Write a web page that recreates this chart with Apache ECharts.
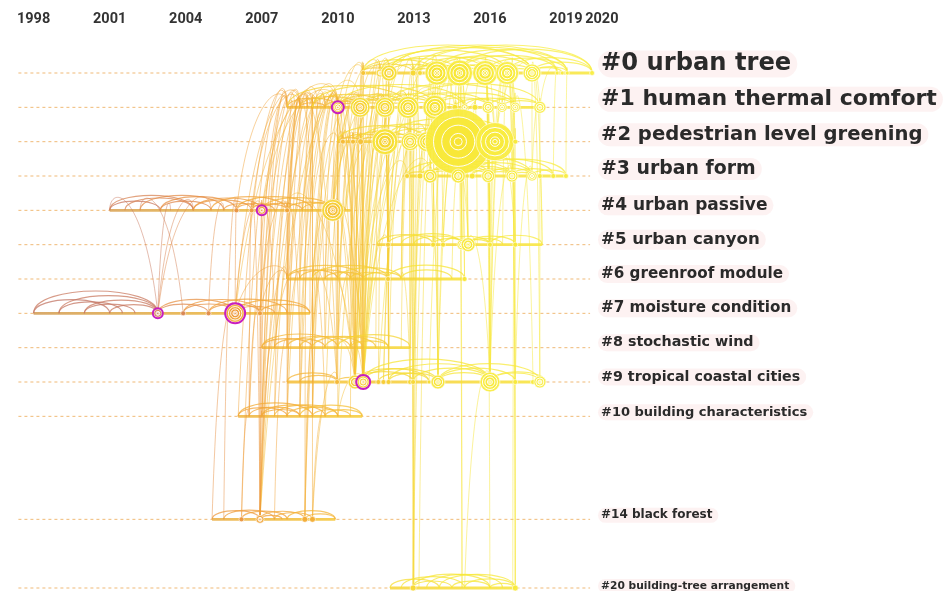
<!DOCTYPE html>
<html>
<head>
<meta charset="utf-8">
<script src="https://cdn.jsdelivr.net/npm/echarts@6/dist/echarts.min.js"></script>
<style>
html,body{margin:0;padding:0;background:#fff;}
#chart{width:948px;height:591px;}
</style>
</head>
<body>
<div id="chart"></div>
<script>
// Timeline view of co-citation clusters (years on top, one row per cluster)
const yearTicks = [1998, 2001, 2004, 2007, 2010, 2013, 2016, 2019];
const lastYearTick = [2020];

const clusterNames = [
  '#0 urban tree', '#1 human thermal comfort', '#2 pedestrian level greening',
  '#3 urban form', '#4 urban passive', '#5 urban canyon', '#6 greenroof module',
  '#7 moisture condition', '#8 stochastic wind', '#9 tropical coastal cities',
  '#10 building characteristics', '#14 black forest', '#20 building-tree arrangement'
];
const clusterRows = [0, 1, 2, 3, 4, 5, 6, 7, 8, 9, 10, 13, 15];

// active time span of each cluster [first year, last year]
const clusterSpans = [
  [2010.9, 2020.03], [2008.0, 2018.2], [2010.0, 2017.1], [2012.7, 2019.0],
  [2001.0, 2010.5], [2011.55, 2018.06], [2008.0, 2015.0], [1998.0, 2008.9],
  [2007.0, 2012.85], [2008.0, 2018.2], [2006.07, 2010.96], [2005.04, 2009.9],
  [2012.06, 2017.0]
];

// references: [cluster index, year, citation size, high centrality 0/1]
const nodes = [
  [0,2011.0,2.5,0],[0,2011.67,4,0],[0,2012.02,8,0],[0,2012.97,3,0],[0,2013.24,2.5,0],
  [0,2013.91,12,0],[0,2014.8,13,0],[0,2015.81,12.5,0],[0,2016.68,11.5,0],[0,2017.66,9,0],
  [0,2018.65,2,0],[0,2018.85,2,0],[0,2019.05,2,0],[0,2020.03,2.5,0],
  [1,2010.0,5,1],[1,2010.88,10,0],[1,2011.86,10,0],[1,2012.77,11,0],[1,2013.83,12,0],
  [1,2014.62,3,0],[1,2015.0,3.5,0],[1,2015.41,3,0],[1,2015.93,6,0],[1,2016.48,5,0],
  [1,2017.0,5,0],[1,2017.97,6,0],
  [2,2010.2,2.5,0],[2,2010.6,2.5,0],[2,2010.9,3,0],[2,2011.86,13,0],[2,2012.85,9,0],
  [2,2013.52,10,0],[2,2014.75,33,0],[2,2016.2,19,0],[2,2017.0,2.5,0],
  [3,2012.73,2.5,0],[3,2013.24,3,0],[3,2013.64,7,0],[3,2014.75,7,0],[3,2015.3,3,0],
  [3,2015.93,6.5,0],[3,2016.87,6,0],[3,2017.66,5,0],[3,2017.97,2.5,0],[3,2018.5,2.5,0],
  [3,2019.0,2.5,0],
  [4,2006.0,2.5,0],[4,2006.6,2.5,0],[4,2007.0,4,1],[4,2008.0,2.5,0],[4,2009.8,11,0],
  [5,2011.98,2.5,0],[5,2013.76,2.5,0],[5,2014.15,2.5,0],[5,2014.9,5,0],[5,2015.14,7,0],
  [5,2016.0,2.5,0],[5,2017.0,2.5,0],
  [6,2011.98,2.5,0],[6,2015.0,2.5,0],
  [7,2002.9,4,1],[7,2003.9,2.5,0],[7,2004.9,2.5,0],[7,2005.95,9,1],[7,2006.93,2.5,0],
  [9,2009.97,2.5,0],[9,2010.68,7,0],[9,2011.0,6,1],[9,2011.6,2.5,0],[9,2011.8,2.5,0],
  [9,2012.0,2.5,0],[9,2012.85,2.5,0],[9,2012.97,2.5,0],[9,2013.6,2,0],[9,2013.95,7,0],
  [9,2016.0,10,0],[9,2017.0,2.5,0],[9,2017.7,2.5,0],[9,2017.97,6,0],
  [11,2006.2,2.5,0],[11,2006.93,4,0],[11,2008.7,3,0],[11,2009.0,3,0],
  [12,2012.97,3,0],[12,2017.0,3,0]
];

// co-citation links inside a cluster: [cluster index, year A, year B]
const arcs = [
  [0,2010.9,2012.02],[0,2011.0,2013.91],[0,2011.67,2014.8],[0,2012.02,2013.91],[0,2012.02,2015.81],
  [0,2012.97,2014.8],[0,2013.24,2016.68],[0,2013.91,2014.8],[0,2013.91,2015.81],[0,2013.91,2017.66],
  [0,2014.8,2015.81],[0,2014.8,2016.68],[0,2014.8,2018.65],[0,2015.81,2016.68],[0,2015.81,2017.66],
  [0,2015.81,2019.05],[0,2016.68,2017.66],[0,2016.68,2020.03],[0,2017.66,2018.85],[0,2017.66,2020.03],
  [0,2012.02,2017.66],[0,2011.0,2017.66],[0,2012.02,2019.05],[0,2013.24,2020.03],[0,2011.67,2016.68],
  [0,2012.97,2018.65],[0,2013.91,2019.05],[0,2014.8,2020.03],[0,2011.0,2012.97],[0,2012.97,2013.91],
  [0,2017.66,2019.05],
  [1,2008.0,2010.0],[1,2008.5,2010.88],[1,2009.0,2011.86],[1,2010.0,2010.88],[1,2010.0,2011.86],
  [1,2010.0,2012.77],[1,2010.88,2011.86],[1,2010.88,2012.77],[1,2010.88,2013.83],[1,2011.86,2012.77],
  [1,2011.86,2013.83],[1,2011.86,2015.0],[1,2012.77,2013.83],[1,2012.77,2015.93],[1,2013.83,2014.62],
  [1,2013.83,2015.93],[1,2013.83,2017.0],[1,2014.62,2016.48],[1,2015.93,2017.97],[1,2016.48,2017.97],
  [1,2015.0,2017.0],[1,2008.0,2012.77],[1,2009.0,2013.83],[1,2010.0,2015.0],[1,2011.86,2017.0],
  [1,2012.77,2017.97],[1,2008.5,2009.5],[1,2009.5,2010.88],
  [2,2010.0,2010.9],[2,2010.2,2011.86],[2,2010.6,2012.85],[2,2010.9,2011.86],[2,2011.86,2012.85],
  [2,2011.86,2013.52],[2,2011.86,2014.75],[2,2012.85,2013.52],[2,2012.85,2014.75],[2,2013.52,2014.75],
  [2,2013.52,2016.2],[2,2014.75,2016.2],[2,2014.75,2017.0],[2,2016.2,2017.0],[2,2010.0,2013.52],
  [2,2010.9,2014.75],[2,2012.85,2016.2],[2,2011.86,2017.0],
  [3,2012.73,2013.64],[3,2013.24,2014.75],[3,2013.64,2014.75],[3,2013.64,2015.93],[3,2014.75,2015.93],
  [3,2014.75,2016.87],[3,2015.3,2016.87],[3,2015.93,2016.87],[3,2015.93,2017.66],[3,2016.87,2017.66],
  [3,2016.87,2018.5],[3,2017.66,2019.0],[3,2013.64,2016.87],[3,2014.75,2017.66],[3,2012.73,2016.0],
  [3,2013.24,2017.66],[3,2015.3,2019.0],[3,2014.75,2018.5],
  [4,2001.0,2004.3],[4,2001.0,2003.0],[4,2001.6,2004.3],[4,2002.2,2005.5],[4,2003.0,2005.0],
  [4,2003.0,2006.0],[4,2004.3,2006.6],[4,2004.3,2007.0],[4,2005.0,2008.0],[4,2005.5,2007.0],
  [4,2006.0,2009.0],[4,2006.6,2008.0],[4,2007.0,2009.8],[4,2007.0,2008.6],[4,2008.0,2009.8],
  [4,2008.6,2010.3],[4,2006.0,2007.5],
  [5,2011.55,2013.76],[5,2011.98,2014.15],[5,2012.5,2014.9],[5,2013.76,2015.14],[5,2014.15,2016.0],
  [5,2014.9,2016.0],[5,2015.14,2017.0],[5,2016.0,2018.06],[5,2013.0,2014.9],[5,2015.14,2016.5],
  [6,2008.0,2010.0],[6,2008.0,2011.0],[6,2008.5,2010.5],[6,2009.0,2011.98],[6,2009.5,2011.0],
  [6,2010.0,2012.5],[6,2010.5,2011.98],[6,2011.0,2012.5],[6,2011.98,2015.0],[6,2012.5,2014.5],
  [7,1998.0,2002.9],[7,1999.0,2002.9],[7,2000.0,2002.9],[7,2001.0,2002.9],[7,1998.0,2001.0],
  [7,1999.0,2001.5],[7,2000.0,2002.0],[7,2002.9,2005.95],[7,2002.9,2004.9],[7,2003.9,2005.95],
  [7,2003.9,2006.93],[7,2004.9,2006.93],[7,2004.9,2008.0],[7,2005.95,2008.9],[7,2005.95,2007.5],
  [7,2006.93,2008.9],
  [8,2007.0,2009.0],[8,2007.0,2010.0],[8,2007.5,2009.5],[8,2008.0,2010.5],[8,2008.5,2011.0],
  [8,2009.0,2011.5],[8,2009.5,2012.0],[8,2010.0,2012.85],[8,2010.5,2012.0],
  [9,2008.0,2010.0],[9,2008.5,2009.97],[9,2009.97,2011.0],[9,2010.68,2012.97],[9,2011.0,2013.95],
  [9,2011.6,2013.6],[9,2012.0,2013.95],[9,2012.97,2016.0],[9,2013.95,2016.0],[9,2013.95,2017.0],
  [9,2016.0,2017.97],[9,2016.0,2018.2],[9,2011.0,2016.0],[9,2012.0,2016.0],[9,2013.95,2017.97],
  [9,2010.68,2013.6],
  [10,2006.07,2008.0],[10,2006.07,2009.0],[10,2006.5,2008.5],[10,2007.0,2009.5],[10,2007.5,2010.0],
  [10,2008.0,2010.0],[10,2008.5,2010.96],[10,2009.0,2010.5],[10,2007.0,2008.5],[10,2009.5,2010.96],
  [11,2005.04,2006.93],[11,2005.5,2007.5],[11,2006.2,2008.0],[11,2006.93,2008.7],[11,2006.93,2007.8],
  [11,2007.5,2009.0],[11,2008.0,2009.9],[11,2008.7,2009.9],
  [12,2012.06,2014.0],[12,2012.5,2015.0],[12,2012.97,2016.0],[12,2013.5,2016.5],[12,2014.0,2017.0],
  [12,2014.5,2016.0],[12,2015.0,2017.0],[12,2012.97,2014.5],[12,2016.0,2017.0]
];

// co-citation links between clusters: [cluster A, year A, cluster B, year B]
const links = [
  [12,2012.97,0,2013.24],[12,2012.97,2,2012.85],[12,2013.2,1,2013.83],[12,2014.9,0,2014.8],
  [12,2017.0,0,2016.87],[12,2017.0,3,2016.87],[12,2016.9,1,2017.0],[12,2012.97,0,2013.91],
  [12,2013.0,1,2012.77],[12,2013.0,3,2013.24],[12,2014.9,2,2014.75],[12,2016.0,0,2015.81],
  [12,2017.0,2,2017.0],[12,2015.0,9,2016.0],[12,2012.97,5,2013.0],
  [11,2006.93,1,2008.5],[11,2006.93,1,2010.0],[11,2006.93,4,2007.0],[11,2006.93,6,2008.0],
  [11,2008.7,1,2010.0],[11,2009.0,9,2010.0],[11,2007.5,8,2008.0],[11,2006.2,10,2006.5],
  [11,2006.93,1,2009.2],[11,2008.7,1,2008.8],[11,2006.2,1,2008.0],[11,2006.93,1,2008.0],
  [11,2006.93,1,2010.88],[11,2006.93,10,2007.0],[11,2006.93,8,2007.5],[11,2006.93,4,2006.6],
  [11,2006.93,7,2006.93],[11,2008.7,8,2009.0],[11,2009.0,1,2009.0],[11,2008.7,6,2009.5],
  [11,2009.0,10,2009.5],[11,2005.04,7,2005.95],[11,2005.5,4,2006.0],
  [10,2007.0,1,2008.3],[10,2008.0,1,2010.0],[10,2009.0,4,2009.8],[10,2006.5,7,2006.9],
  [10,2010.0,2,2011.86],[10,2009.5,6,2009.0],[10,2008.5,1,2009.5],[10,2007.5,4,2008.0],
  [10,2006.07,1,2008.0],[10,2006.5,1,2008.5],[10,2007.0,1,2009.0],[10,2007.5,1,2009.5],
  [10,2008.0,1,2008.8],[10,2008.5,1,2010.0],[10,2009.0,1,2010.0],[10,2009.5,1,2010.88],
  [10,2010.0,1,2010.0],[10,2010.5,2,2010.6],[10,2006.5,4,2006.6],[10,2007.0,4,2007.0],
  [10,2008.0,6,2008.0],[10,2008.5,8,2008.5],[10,2009.0,8,2009.0],[10,2010.0,9,2011.0],
  [9,2011.0,1,2010.0],[9,2011.0,1,2010.88],[9,2011.0,1,2011.86],[9,2011.0,2,2011.86],
  [9,2011.0,2,2010.9],[9,2010.68,1,2010.0],[9,2010.68,1,2010.88],[9,2010.68,2,2010.6],
  [9,2010.68,0,2011.0],[9,2011.0,0,2012.02],[9,2010.68,4,2009.8],[9,2011.0,3,2013.64],
  [9,2013.95,0,2013.91],[9,2013.95,2,2014.75],[9,2013.95,1,2013.83],[9,2016.0,0,2015.81],
  [9,2016.0,2,2016.2],[9,2016.0,3,2015.93],[9,2016.0,5,2015.14],[9,2017.97,1,2017.97],
  [9,2017.0,0,2016.68],[9,2012.0,1,2012.77],[9,2012.85,2,2012.85],[9,2009.97,1,2008.5],
  [9,2009.97,6,2009.0],[9,2011.6,2,2013.52],[9,2011.8,0,2012.97],[9,2012.97,1,2013.83],
  [9,2010.68,1,2009.6],[9,2011.0,1,2009.3],[9,2010.68,2,2010.2],[9,2011.0,0,2011.67],
  [9,2010.68,1,2011.86],[9,2011.0,2,2012.85],[9,2010.68,0,2012.02],[9,2011.0,6,2010.5],
  [9,2010.68,8,2010.0],[9,2011.0,1,2012.77],[9,2013.6,0,2014.8],[9,2016.0,1,2015.93],
  [9,2010.68,2,2011.86],[9,2010.68,0,2011.67],[9,2011.0,0,2012.97],[9,2010.68,1,2012.77],
  [9,2011.0,2,2013.52],[9,2010.68,2,2012.85],[9,2011.0,1,2013.83],[9,2010.68,3,2012.73],
  [9,2011.0,5,2011.98],[9,2010.68,6,2009.5],[9,2011.0,8,2010.5],[9,2010.68,4,2008.0],
  [9,2011.0,4,2009.8],[9,2011.0,2,2010.2],[9,2010.68,2,2010.9],[9,2011.0,0,2011.0],
  [9,2010.68,1,2010.3],[9,2011.0,1,2010.6],[9,2011.6,1,2011.86],[9,2011.8,1,2012.77],
  [9,2012.0,2,2011.86],[9,2012.0,0,2012.02],[9,2012.85,0,2013.24],[9,2012.97,2,2013.52],
  [9,2013.95,3,2013.64],[9,2013.95,0,2014.8],[9,2013.95,5,2013.76],[9,2016.0,0,2016.68],
  [9,2016.0,3,2016.87],[9,2016.0,1,2016.48],[9,2017.0,3,2017.66],[9,2017.97,0,2017.66],
  [9,2017.7,1,2017.0],[9,2009.97,1,2010.0],[9,2009.97,4,2009.8],[9,2008.5,1,2008.5],
  [9,2009.0,1,2009.0],[9,2008.0,6,2008.5],
  [8,2008.0,1,2008.5],[8,2009.0,1,2010.0],[8,2010.0,1,2010.88],[8,2011.0,2,2010.9],
  [8,2012.0,0,2012.02],[8,2010.5,4,2009.8],[8,2007.5,6,2008.5],[8,2012.5,2,2012.85],
  [8,2009.5,1,2009.0],[8,2008.5,4,2008.0],[8,2007.0,1,2008.0],[8,2007.5,1,2008.8],
  [8,2008.0,1,2009.5],[8,2008.5,1,2010.0],[8,2009.0,1,2010.88],[8,2009.5,2,2010.2],
  [8,2010.0,2,2010.6],[8,2010.5,1,2011.86],[8,2011.0,1,2011.86],[8,2011.5,0,2011.67],
  [8,2012.0,2,2011.86],[8,2012.85,1,2012.77],[8,2008.0,4,2008.0],[8,2009.0,6,2009.0],
  [8,2010.0,6,2010.5],[8,2010.5,9,2010.68],
  [7,2002.9,4,2001.0],[7,2002.9,4,2004.3],[7,2005.95,4,2006.0],[7,2005.95,4,2007.0],
  [7,2005.95,1,2008.5],[7,2006.93,1,2009.0],[7,2006.93,4,2008.0],[7,2005.95,6,2008.0],
  [7,2004.9,4,2005.5],[7,2002.9,4,2003.4],[7,2006.93,1,2008.0],[7,2008.0,1,2008.5],
  [7,2008.9,1,2009.0],[7,2005.95,1,2010.0],[7,2007.5,4,2007.0],[7,2008.0,4,2008.6],
  [7,2006.93,6,2008.0],[7,2003.9,4,2002.2],[7,2002.9,4,2005.0],
  [6,2008.5,1,2009.3],[6,2009.5,1,2010.0],[6,2010.0,2,2010.2],[6,2010.5,1,2010.88],
  [6,2011.98,2,2011.86],[6,2011.0,0,2011.0],[6,2009.0,4,2009.8],[6,2012.5,3,2012.73],
  [6,2015.0,2,2014.75],[6,2008.0,1,2008.2],[6,2010.0,1,2011.86],[6,2008.0,1,2008.5],
  [6,2008.5,1,2010.0],[6,2009.0,1,2010.88],[6,2010.0,1,2010.0],[6,2010.5,2,2010.9],
  [6,2011.0,1,2011.86],[6,2011.98,0,2012.02],[6,2012.5,1,2012.77],[6,2009.5,4,2009.8],
  [6,2014.5,3,2014.75],[6,2015.0,0,2014.8],[6,2011.98,2,2012.85],[6,2013.0,0,2012.97],
  [6,2012.5,9,2012.85],
  [5,2011.98,2,2011.86],[5,2013.76,2,2013.52],[5,2014.15,0,2013.91],[5,2014.9,2,2014.75],
  [5,2015.14,3,2014.75],[5,2015.14,0,2014.8],[5,2016.0,2,2016.2],[5,2016.0,0,2015.81],
  [5,2017.0,3,2016.87],[5,2013.0,1,2012.77],[5,2015.5,1,2015.41],[5,2011.98,1,2011.86],
  [5,2012.5,2,2012.85],[5,2013.76,0,2013.91],[5,2013.76,1,2013.83],[5,2014.15,2,2014.75],
  [5,2014.9,0,2014.8],[5,2014.9,1,2014.62],[5,2015.14,2,2014.75],[5,2015.14,1,2015.0],
  [5,2016.0,3,2015.93],[5,2016.0,1,2015.93],[5,2016.5,0,2016.68],[5,2017.0,0,2016.68],
  [5,2017.0,2,2016.2],[5,2018.06,0,2017.66],[5,2018.06,3,2017.97],
  [4,2009.8,1,2010.0],[4,2009.8,1,2010.88],[4,2009.8,2,2010.2],[4,2009.0,1,2008.5],
  [4,2008.0,1,2008.8],[4,2007.0,1,2009.2],[4,2009.8,0,2011.0],[4,2010.3,1,2011.86],
  [4,2006.0,1,2008.0],[4,2006.6,1,2008.5],[4,2007.0,1,2010.0],[4,2008.0,1,2009.0],
  [4,2008.6,1,2010.0],[4,2009.8,1,2011.86],[4,2009.8,2,2010.9],[4,2009.8,0,2011.67],
  [4,2010.3,2,2011.86],[4,2009.0,2,2010.0],
  [3,2013.64,2,2013.52],[3,2013.64,0,2013.91],[3,2014.75,2,2014.75],[3,2014.75,1,2014.62],
  [3,2015.93,2,2016.2],[3,2015.93,0,2015.81],[3,2016.87,0,2016.68],[3,2017.66,0,2017.66],
  [3,2012.73,1,2012.77],[3,2013.24,0,2012.97],[3,2015.3,1,2015.41],[3,2016.87,1,2017.0],
  [3,2013.64,1,2013.83],[3,2014.75,0,2014.8],[3,2015.93,1,2015.93],[3,2016.87,2,2016.2],
  [3,2017.66,1,2017.97],[3,2018.5,0,2018.65],[3,2019.0,0,2019.05],[3,2013.24,2,2013.52],
  [3,2014.75,2,2016.2],
  [2,2011.86,1,2011.86],[2,2011.86,0,2012.02],[2,2012.85,1,2012.77],[2,2013.52,0,2013.91],
  [2,2014.75,0,2014.8],[2,2014.75,1,2014.62],[2,2016.2,0,2015.81],[2,2016.2,1,2015.93],
  [2,2010.2,1,2010.0],[2,2010.6,1,2010.88],[2,2014.75,0,2013.91],[2,2016.2,0,2016.68],
  [2,2012.85,0,2012.97],[2,2013.52,1,2013.83],[2,2014.75,0,2015.81],[2,2014.75,1,2015.93],
  [2,2016.2,0,2017.66],[2,2017.0,0,2016.68],[2,2011.86,0,2011.67],[2,2010.9,0,2011.0],
  [2,2010.9,1,2010.88],
  [1,2010.0,0,2011.0],[1,2010.88,0,2011.67],[1,2011.86,0,2012.02],[1,2012.77,0,2012.97],
  [1,2013.83,0,2013.91],[1,2014.62,0,2014.8],[1,2015.93,0,2015.81],[1,2016.48,0,2016.68],
  [1,2017.97,0,2017.66],[1,2013.83,0,2014.8],[1,2010.88,0,2011.0],[1,2011.86,0,2012.97],
  [1,2012.77,0,2013.91],[1,2013.83,0,2015.81],[1,2015.0,0,2014.8],[1,2017.0,0,2016.68],
  [1,2017.97,0,2018.65],[1,2015.41,0,2015.81]
];

// label styling per cluster row
const labelSizes = [24.2, 22, 19.6, 18.9, 17, 16.6, 15.2, 15.2, 14.3, 14.25, 13, 12, 10.7];
const labelLift = [9, 8, 7, 7, 5, 5, 5, 5, 5, 5, 4, 4, 2];

// year -> colour ramp (older = rosy brown, newer = yellow)
const yearStops = [
  [1998, [184,108,104]], [2003, [201,122,96]], [2005, [224,138,78]], [2007, [238,154,62]],
  [2009, [243,171,54]], [2011, [245,192,56]], [2013, [246,214,52]], [2015, [247,228,52]],
  [2020, [248,238,68]]
];
function colorAt(y, a) {
  const s = yearStops;
  let c = s[s.length - 1][1];
  if (y <= s[0][0]) c = s[0][1];
  else {
    for (let i = 1; i < s.length; i++) {
      if (y <= s[i][0]) {
        const t = (y - s[i - 1][0]) / (s[i][0] - s[i - 1][0]);
        c = s[i - 1][1].map((v, k) => v + (s[i][1][k] - v) * t);
        break;
      }
    }
  }
  return 'rgba(' + c.map(Math.round).join(',') + ',' + (a == null ? 1 : a) + ')';
}
function paler(y, a) {
  const base = colorAt(y, 1).match(/[\d.]+/g).map(Number);
  const p = [250, 232, 110];
  return 'rgba(' + base.slice(0, 3).map((v, k) => Math.round(v * 0.5 + p[k] * 0.5)).join(',') + ',' + a + ')';
}

const X_MIN = 1997.4, X_MAX = 2020.05, DASH_END = 2019.95;

const chart = echarts.init(document.getElementById('chart'), null, { renderer: 'canvas' });

const yearFont = "Roboto, 'Liberation Sans', sans-serif";
const yearLabel = { fontFamily: yearFont, fontWeight: 'bold', fontSize: 14.5, color: '#333' };
const hiddenAxisParts = { axisLine: { show: false }, axisTick: { show: false }, splitLine: { show: false } };

chart.setOption({
  animation: false,
  backgroundColor: '#ffffff',
  grid: { left: 18.4, top: 38.67, height: 551.05, right: 355.4, containLabel: false, outerBoundsMode: 'none' },
  xAxis: [
    Object.assign({
      type: 'value', min: X_MIN, max: X_MAX, position: 'top',
      axisLabel: Object.assign({
        customValues: yearTicks, margin: 12, showMinLabel: true, showMaxLabel: true,
        formatter: v => String(v)
      }, yearLabel)
    }, hiddenAxisParts),
    Object.assign({
      type: 'value', min: X_MIN, max: X_MAX, position: 'top',
      axisLabel: Object.assign({
        customValues: lastYearTick, margin: 12, showMinLabel: true, showMaxLabel: true,
        formatter: v => '{y|' + String(v) + '}',
        rich: { y: Object.assign({ padding: [0, 0, 0, 21] }, yearLabel) }
      }, yearLabel)
    }, hiddenAxisParts)
  ],
  yAxis: Object.assign({
    type: 'value', inverse: true, min: -1, max: 15.05, position: 'right',
    axisLabel: { show: false }
  }, hiddenAxisParts),
  series: [
    {
      // dashed guide line for every cluster
      type: 'custom', name: 'guides', silent: true, z: 1,
      data: clusterRows.map(r => [X_MIN, r, DASH_END]),
      renderItem: (params, api) => {
        const a = api.coord([api.value(0), api.value(1)]);
        const b = api.coord([api.value(2), api.value(1)]);
        return { type: 'line', shape: { x1: a[0], y1: a[1], x2: b[0], y2: b[1] },
          style: { stroke: 'rgba(238,178,104,0.9)', lineWidth: 1, lineDash: [3, 3] } };
      }
    },
    {
      // active period of each cluster
      type: 'custom', name: 'spans', silent: true, z: 2,
      data: clusterSpans.map((s, i) => [s[0], clusterRows[i], s[1]]),
      renderItem: (params, api) => {
        const a = api.coord([api.value(0), api.value(1)]);
        const b = api.coord([api.value(2), api.value(1)]);
        const grad = new echarts.graphic.LinearGradient(a[0], 0, b[0], 0, [
          { offset: 0, color: paler(api.value(0), 1) },
          { offset: 1, color: paler(api.value(2), 1) }
        ], true);
        return { type: 'line', shape: { x1: a[0], y1: a[1], x2: b[0], y2: b[1] },
          style: { stroke: grad, lineWidth: 2.8 } };
      }
    },
    {
      // between-cluster links rise from the lower reference and arch onto the upper one
      type: 'custom', name: 'links', silent: true, z: 3,
      data: links.map(l => [l[1], clusterRows[l[0]], l[3], clusterRows[l[2]]]),
      renderItem: (params, api) => {
        const p = api.coord([api.value(0), api.value(1)]);
        const q = api.coord([api.value(2), api.value(3)]);
        const up = p[1] < q[1] ? p : q;
        const lo = p[1] < q[1] ? q : p;
        const dx = up[0] - lo[0];
        const dy = lo[1] - up[1];
        const k = (0.2 * Math.abs(dx) + 0.05 * dy + 4) * 4 / 3;
        const yr = Math.max(api.value(0), api.value(2));
        return { type: 'bezierCurve',
          shape: { x1: lo[0], y1: lo[1], x2: up[0], y2: up[1],
            cpx1: lo[0] + 0.3 * dx, cpy1: up[1] - k, cpx2: up[0], cpy2: up[1] - k },
          style: { stroke: colorAt(yr, 0.5), lineWidth: 1, fill: 'none' } };
      }
    },
    {
      // within-cluster links drawn as arches over the row
      type: 'custom', name: 'arcs', silent: true, z: 4,
      data: arcs.map(a => [a[1], clusterRows[a[0]], a[2]]),
      renderItem: (params, api) => {
        const a = api.coord([api.value(0), api.value(1)]);
        const b = api.coord([api.value(2), api.value(1)]);
        const span = Math.abs(b[0] - a[0]);
        const h = Math.min(0.18 * span, 28) * 4 / 3;
        const yr = Math.max(api.value(0), api.value(2));
        return { type: 'bezierCurve',
          shape: { x1: a[0], y1: a[1], x2: b[0], y2: b[1], cpx1: a[0], cpy1: a[1] - h, cpx2: b[0], cpy2: b[1] - h },
          style: { stroke: colorAt(yr, 0.75), lineWidth: 1.2, fill: 'none' } };
      }
    },
    {
      // references as citation tree rings
      type: 'custom', name: 'nodes', silent: true, z: 5,
      data: nodes.map(n => [n[1], clusterRows[n[0]], n[2], n[3]]),
      renderItem: (params, api) => {
        const yr = api.value(0), r = api.value(2), hub = api.value(3);
        const c = api.coord([yr, api.value(1)]);
        const n = r >= 9 ? 4 : r >= 5 ? 3 : r >= 3.5 ? 2 : 1;
        const children = [];
        for (let k = 0; k < n; k++) {
          const rad = r * (n - k) / n;
          children.push({ type: 'circle', shape: { cx: c[0], cy: c[1], r: rad },
            style: { fill: colorAt(yr + (n - 1 - k) * 0.9 + 0.3, 0.92),
              stroke: 'rgba(255,255,255,' + (k === 0 ? 0.75 : 0.95) + ')', lineWidth: k === 0 ? 0.8 : 1 } });
        }
        if (n >= 2) {
          children.push({ type: 'circle', shape: { cx: c[0], cy: c[1], r: Math.max(1.2, r * 0.12) },
            style: { fill: 'none', stroke: '#fff', lineWidth: 0.9 } });
        }
        if (hub) {
          children.push({ type: 'circle', shape: { cx: c[0], cy: c[1], r: r + 1 },
            style: { fill: 'none', stroke: '#c81fbf', lineWidth: 2 } });
        }
        return { type: 'group', children: children };
      }
    },
    {
      // cluster names at the end of each row
      type: 'custom', name: 'cluster labels', silent: true, z: 6,
      data: clusterRows.map((r, i) => [X_MAX, r, i]),
      renderItem: (params, api) => {
        const i = api.value(2);
        const p = api.coord([api.value(0), api.value(1)]);
        const fs = labelSizes[i];
        return { type: 'text', x: p[0] + 5.4, y: p[1] - labelLift[i],
          style: { text: clusterNames[i], fill: '#2a2a2a', fontFamily: 'DejaVu Sans', fontWeight: 'bold',
            fontSize: fs, align: 'left', verticalAlign: 'middle',
            backgroundColor: 'rgba(250,226,226,0.45)', borderRadius: Math.round(fs * 0.7), padding: [2, 6, 1, 3] } };
      }
    }
  ]
});
</script>
</body>
</html>
